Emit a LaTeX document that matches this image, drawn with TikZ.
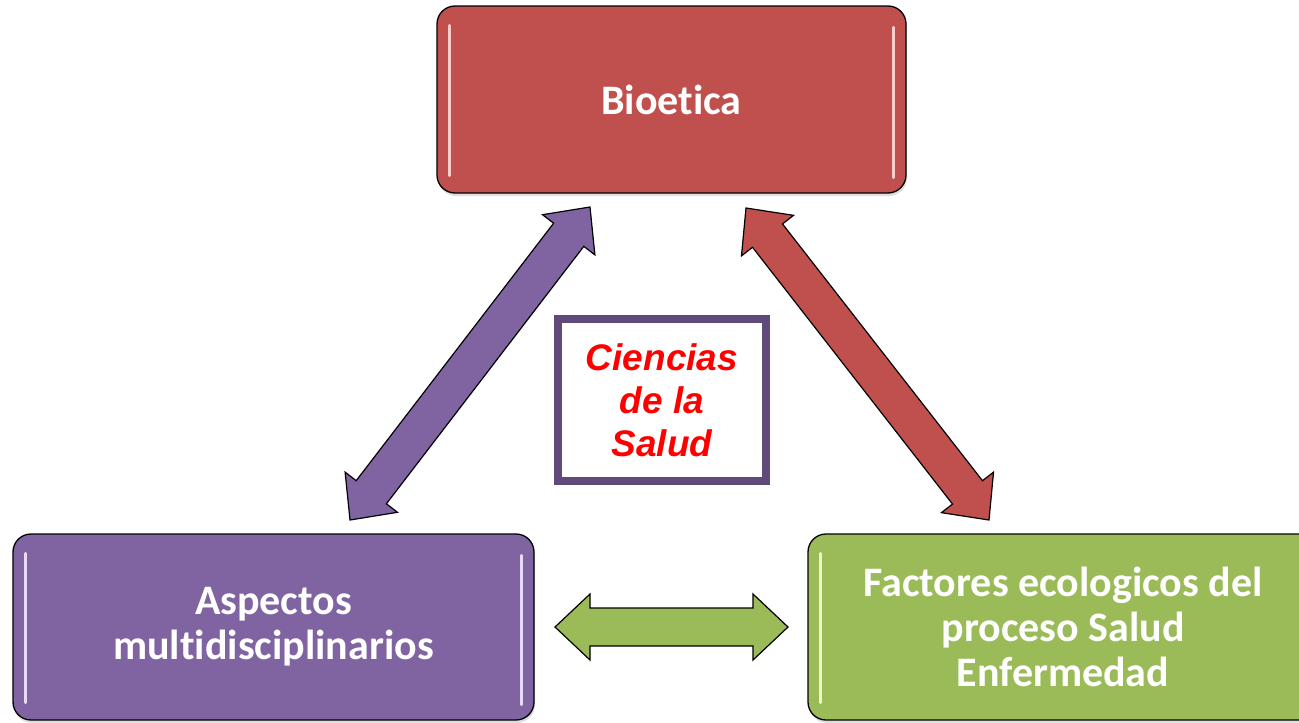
\documentclass[tikz,border=0pt]{standalone}
\usepackage{fontspec}
\setmainfont{Carlito}[Ligatures={NoCommon,NoRare,NoContextual}]
\newfontfamily\arialfont{Liberation Sans}
\usetikzlibrary{calc,shadows}
\definecolor{boxred}{HTML}{C0504D}
\definecolor{boxpurple}{HTML}{8064A2}
\definecolor{boxgreen}{HTML}{9BBB59}
\definecolor{cborder}{HTML}{604A7B}
\definecolor{hlred}{HTML}{F8D4D2}
\definecolor{hlpurple}{HTML}{ECE2F8}
\definecolor{hlgreen}{HTML}{F2FAD0}
\tikzset{
  mainbox/.style={draw=black, line width=1.3pt, rounded corners=18pt,
    text=white, align=center, font=\fontsize{42}{45}\selectfont\bfseries,
    drop shadow={shadow xshift=1pt, shadow yshift=-3pt, opacity=0.25}},
  arrowshape/.style={draw=black, line width=1.2pt, line join=miter},
  hilite/.style={line width=3pt, line cap=round, opacity=0.95},
  centerbox/.style={draw=cborder, line width=8pt, fill=white, text=red,
    align=center, font=\arialfont\bfseries\itshape\fontsize{37}{43}\selectfont}
}
\newcommand\dblarrow[4]{%
  \coordinate (#4p) at ($(#1)!35pt!(#2)$);
  \coordinate (#4q) at ($(#2)!35pt!(#1)$);
  \draw[arrowshape, fill=#3] (#1)
    -- ($(#4p)!33pt!90:(#2)$) -- ($(#4p)!19pt!90:(#2)$)
    -- ($(#4q)!19pt!-90:(#1)$) -- ($(#4q)!33pt!-90:(#1)$)
    -- (#2)
    -- ($(#4q)!33pt!90:(#1)$) -- ($(#4q)!19pt!90:(#1)$)
    -- ($(#4p)!19pt!-90:(#2)$) -- ($(#4p)!33pt!-90:(#2)$) -- cycle;}
\begin{document}
\begin{tikzpicture}[x=1pt, y=1pt]
\useasboundingbox (0,0) rectangle (1299,-723);
\clip (0,0) rectangle (1299,-723);
\fill[white] (0,0) rectangle (1299,-723);

% boxes
\node[mainbox, fill=boxred, minimum width=469, minimum height=187] (bio) at (671.5,-99.5) {Bioetica};
\node[mainbox, fill=boxpurple, minimum width=521, minimum height=186] (asp) at (273.5,-627) {Aspectos\\multidisciplinarios};
\node[mainbox, fill=boxgreen, minimum width=510, minimum height=186] (fac) at (1063,-627) {Factores ecologicos del\\proceso Salud\\Enfermedad};

% highlights
\draw[hilite, hlred] ($(bio.north west)+(13,-20)$) -- ($(bio.south west)+(13,18)$);
\draw[hilite, hlred] ($(bio.north east)+(-13,-22)$) -- ($(bio.south east)+(-13,16)$);
\draw[hilite, hlpurple] ($(asp.north west)+(13,-20)$) -- ($(asp.south west)+(13,18)$);
\draw[hilite, hlpurple] ($(asp.north east)+(-13,-22)$) -- ($(asp.south east)+(-13,16)$);
\draw[hilite, hlgreen] ($(fac.north west)+(13,-20)$) -- ($(fac.south west)+(13,18)$);

% center box
\node[centerbox, minimum width=208, minimum height=162] (cs) at (662,-400) {Ciencias\\de la\\Salud};

% arrow tips
\coordinate (pa) at (350,-520);
\coordinate (pb) at (590,-207);
\coordinate (ra) at (746,-208);
\coordinate (rb) at (989,-520);
\coordinate (ga) at (555,-627);
\coordinate (gb) at (788,-627);

\dblarrow{pa}{pb}{boxpurple}{parr}
\dblarrow{ra}{rb}{boxred}{rarr}
\dblarrow{ga}{gb}{boxgreen}{garr}
\end{tikzpicture}
\end{document}
